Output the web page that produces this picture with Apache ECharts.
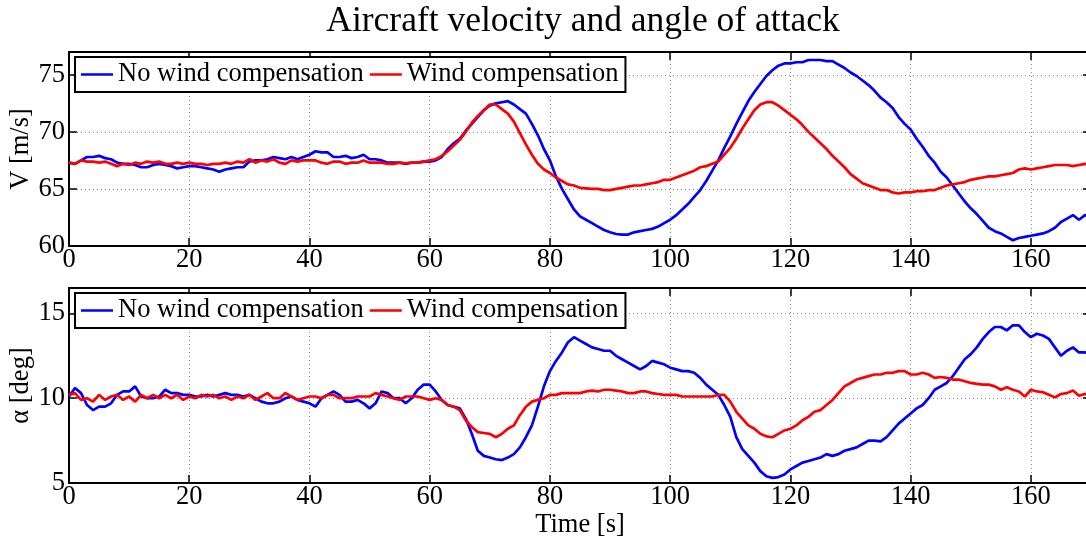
<!DOCTYPE html>
<html>
<head>
<meta charset="utf-8">
<script src="https://cdn.jsdelivr.net/npm/echarts@6/dist/echarts.min.js"></script>
<style>
html,body{margin:0;padding:0;background:#fff;}
#chart{width:1086px;height:541px;}
</style>
</head>
<body>
<div id="chart"></div>
<script>
// Time samples (s), one per second
var timeLabels = [0,20,40,60,80,100,120,140,160];
var seriesNames = ['No wind compensation', 'Wind compensation'];

// Velocity V [m/s], t = 0..170 s
var vNoComp = [
67.3,67.2,67.5,67.8,67.8,67.9,67.7,67.6,67.3,67.2,
67.2,67.1,66.9,66.9,67.1,67.2,67.1,67.0,66.8,66.9,
67.0,67.0,66.9,66.8,66.7,66.5,66.7,66.8,66.9,66.9,
67.4,67.5,67.5,67.6,67.8,67.7,67.6,67.8,67.6,67.8,
68.0,68.3,68.2,68.2,67.8,67.8,67.9,67.7,67.8,68.0,
67.6,67.6,67.5,67.3,67.3,67.3,67.2,67.3,67.3,67.4,
67.4,67.5,67.8,68.5,69.0,69.4,70.1,70.7,71.3,71.9,
72.3,72.5,72.6,72.7,72.4,72.0,71.6,70.7,69.7,68.5,
67.5,66.1,65.0,64.1,63.2,62.6,62.3,62.0,61.7,61.4,
61.2,61.05,61.0,61.0,61.2,61.3,61.4,61.5,61.7,62.0,
62.3,62.7,63.2,63.7,64.3,64.9,65.7,66.6,67.5,68.6,
69.6,70.7,71.7,72.7,73.5,74.2,74.9,75.4,75.8,76.0,
76.0,76.1,76.1,76.3,76.3,76.3,76.2,76.2,75.9,75.6,
75.2,74.9,74.5,74.1,73.6,73.0,72.6,72.1,71.3,70.7,
70.2,69.4,68.7,67.9,67.3,66.5,66.0,65.3,64.6,63.9,
63.3,62.8,62.2,61.6,61.3,61.1,60.8,60.5,60.7,60.8,
60.9,61.0,61.1,61.3,61.6,62.1,62.4,62.7,62.3,62.7,62.6
];
var vComp = [
67.3,67.2,67.5,67.4,67.4,67.3,67.4,67.2,67.0,67.2,
67.1,67.3,67.2,67.4,67.3,67.4,67.2,67.2,67.3,67.2,
67.3,67.2,67.2,67.1,67.2,67.2,67.3,67.2,67.4,67.3,
67.6,67.3,67.5,67.4,67.6,67.3,67.2,67.5,67.4,67.5,
67.5,67.5,67.3,67.2,67.4,67.4,67.2,67.3,67.3,67.5,
67.3,67.3,67.3,67.2,67.2,67.3,67.25,67.3,67.3,67.4,
67.5,67.6,67.9,68.3,68.8,69.3,70.0,70.8,71.4,71.9,
72.4,72.4,72.0,71.6,70.9,69.9,68.9,68.0,67.2,66.7,
66.4,66.0,65.7,65.4,65.3,65.1,65.05,65.0,65.0,64.9,
64.9,65.0,65.1,65.2,65.3,65.3,65.4,65.5,65.6,65.8,
65.8,66.0,66.2,66.4,66.6,66.9,67.0,67.2,67.4,68.0,
68.6,69.4,70.3,71.1,71.9,72.4,72.6,72.6,72.3,71.9,
71.5,71.1,70.6,70.0,69.5,69.0,68.5,67.9,67.4,66.9,
66.3,65.9,65.5,65.3,65.1,64.9,64.9,64.7,64.6,64.7,
64.7,64.8,64.8,64.9,64.9,65.1,65.3,65.4,65.5,65.6,
65.8,65.9,66.0,66.1,66.1,66.2,66.3,66.4,66.7,66.8,
66.7,66.8,66.9,67.0,67.1,67.1,67.1,67.0,67.1,67.2,67.1
];

// Angle of attack alpha [deg], t = 0..170 s
var aNoComp = [
10.1,10.6,10.3,9.6,9.3,9.5,9.5,9.7,10.2,10.4,
10.4,10.7,10.1,10.0,10.0,10.1,10.5,10.3,10.3,10.2,
10.2,10.1,10.1,10.2,10.1,10.2,10.3,10.2,10.2,10.1,
10.2,10.0,9.8,9.7,9.7,9.8,10.0,10.1,9.9,9.8,
9.7,9.5,10.0,10.2,10.4,10.2,9.8,9.8,9.9,9.7,
9.4,9.7,10.4,10.3,10.0,10.0,9.7,10.0,10.5,10.8,
10.8,10.4,9.9,9.6,9.5,9.4,8.8,7.9,6.9,6.6,
6.5,6.4,6.35,6.5,6.7,7.1,7.7,8.4,9.5,10.7,
11.6,12.2,12.7,13.3,13.6,13.4,13.2,13.0,12.9,12.8,
12.8,12.5,12.3,12.1,11.9,11.7,11.9,12.2,12.1,12.0,
11.8,11.7,11.6,11.6,11.5,11.2,10.8,10.5,10.2,9.6,
8.9,7.7,7.0,6.6,6.2,5.7,5.4,5.3,5.35,5.5,
5.8,6.0,6.2,6.3,6.4,6.5,6.7,6.6,6.7,6.9,
7.0,7.1,7.3,7.5,7.5,7.45,7.7,8.1,8.5,8.8,
9.1,9.4,9.6,10.0,10.5,10.7,10.9,11.3,11.8,12.3,
12.6,13.0,13.5,13.9,14.2,14.2,14.0,14.3,14.3,13.9,
13.6,13.8,13.7,13.5,13.0,12.5,12.8,13.0,12.7,12.7,12.6
];
var aComp = [
10.2,10.3,9.9,10.0,9.8,10.2,9.9,10.1,10.2,9.9,
10.1,9.8,10.2,10.0,10.2,10.0,10.2,10.0,10.2,9.9,
10.1,10.0,10.2,10.1,10.2,10.0,10.1,9.9,10.1,10.0,
10.2,9.9,10.1,10.3,10.0,10.0,10.3,10.1,9.9,10.0,
10.1,10.1,10.0,10.2,10.2,10.0,10.0,10.0,10.1,10.1,
10.1,10.3,10.2,10.1,10.0,9.9,10.1,10.1,10.1,10.0,
9.9,10.0,9.9,9.6,9.5,9.3,8.7,8.3,8.0,7.95,
7.9,7.7,7.9,8.2,8.4,9.0,9.5,9.8,9.9,10.0,
10.2,10.2,10.3,10.3,10.3,10.3,10.4,10.45,10.4,10.5,
10.5,10.45,10.4,10.3,10.3,10.4,10.4,10.3,10.25,10.2,
10.2,10.2,10.1,10.1,10.1,10.1,10.1,10.1,10.2,10.2,
9.8,9.2,8.8,8.4,8.2,7.9,7.75,7.7,7.9,8.1,
8.2,8.4,8.7,8.9,9.2,9.3,9.6,9.9,10.3,10.7,
10.9,11.1,11.2,11.3,11.4,11.4,11.5,11.5,11.6,11.6,
11.4,11.4,11.5,11.4,11.2,11.25,11.2,11.1,11.1,11.0,
10.9,10.85,10.8,10.8,10.7,10.5,10.65,10.5,10.4,10.1,
10.5,10.4,10.35,10.2,10.05,10.25,10.3,10.45,10.15,10.25,10.2
];

function pairs(arr){ return arr.map(function(v,i){ return [i, v]; }); }

var FONT = "'Liberation Serif','DejaVu Serif',serif";
var FS = 26.5;
var BLUE = '#0000ff', RED = '#ff0000';

function xAxes(gi, withName){
  return [{
    type:'value', gridIndex:gi, min:0, max:170, interval:20, position:'bottom',
    axisLine:{show:true, onZero:false, lineStyle:{color:'#000', width:2}},
    axisTick:{show:true, inside:true, length:8, lineStyle:{color:'#000', width:1.5}},
    axisLabel:{show:true, color:'#000', fontFamily:FONT, fontSize:FS, margin:1, showMaxLabel:false},
    splitLine:{show:true, lineStyle:{color:'#888', width:1, type:[1,3]}},
    name: withName ? 'Time [s]' : '', nameLocation:'middle', nameGap:27,
    nameTextStyle:{color:'#000', fontFamily:FONT, fontSize:FS}
  },{
    type:'value', gridIndex:gi, min:0, max:170, interval:20, position:'top',
    axisLine:{show:true, onZero:false, lineStyle:{color:'#000', width:2}},
    axisTick:{show:true, inside:true, length:8, lineStyle:{color:'#000', width:1.5}},
    axisLabel:{show:false}, splitLine:{show:false}
  }];
}
function yAxes(gi, min, max, name){
  return [{
    type:'value', gridIndex:gi, min:min, max:max, interval:5, position:'left',
    axisLine:{show:true, onZero:false, lineStyle:{color:'#000', width:2}},
    axisTick:{show:true, inside:true, length:8, lineStyle:{color:'#000', width:1.5}},
    axisLabel:{show:true, color:'#000', fontFamily:FONT, fontSize:FS, margin:4, showMaxLabel:false},
    splitLine:{show:true, lineStyle:{color:'#888', width:1, type:[1,3]}},
    name:name, nameLocation:'middle', nameGap:34, nameRotate:90, nameMoveOverlap:false,
    nameTextStyle:{color:'#000', fontFamily:FONT, fontSize:FS}
  },{
    type:'value', gridIndex:gi, min:min, max:max, interval:5, position:'right',
    axisLine:{show:true, onZero:false, lineStyle:{color:'#000', width:2}},
    axisTick:{show:true, inside:true, length:8, lineStyle:{color:'#000', width:1.5}},
    axisLabel:{show:false}, splitLine:{show:false}
  }];
}

function legend(top){
  return {
    left:75, top:top, orient:'horizontal',
    data:seriesNames, icon:'rect', itemWidth:32, itemHeight:2.5, itemGap:6,
    backgroundColor:'#fff', borderColor:'#000', borderWidth:2, borderRadius:0,
    padding:[4,7,4,6], selectedMode:false,
    textStyle:{color:'#000', fontFamily:FONT, fontSize:FS}
  };
}

var chart = echarts.init(document.getElementById('chart'), null, {renderer:'canvas'});
var xa = xAxes(0,false).concat(xAxes(1,true));
var ya = yAxes(0,60,77,'V [m/s]').concat(yAxes(1,5,16.5,'\u03b1 [deg]'));

chart.setOption({
  animation:false,
  backgroundColor:'#fff',
  title:{text:'Aircraft velocity and angle of attack', left:578, top:-1, textAlign:'center',
    textStyle:{color:'#000', fontFamily:FONT, fontSize:35.5, fontWeight:'normal'}},
  legend:[legend(57), legend(293)],
  grid:[
    {left:69, width:1022, top:52, height:194, outerBoundsMode:'none', containLabel:false},
    {left:69, width:1022, top:288, height:195, outerBoundsMode:'none', containLabel:false}
  ],
  xAxis:xa,
  yAxis:ya,
  series:[
    {name:seriesNames[0], type:'line', xAxisIndex:0, yAxisIndex:0, data:pairs(vNoComp), showSymbol:false, symbol:'none', color:BLUE, lineStyle:{color:BLUE, width:2.7}, z:3},
    {name:seriesNames[1], type:'line', xAxisIndex:0, yAxisIndex:0, data:pairs(vComp), showSymbol:false, symbol:'none', color:RED, lineStyle:{color:RED, width:2.7}, z:4},
    {name:seriesNames[0], type:'line', xAxisIndex:2, yAxisIndex:2, data:pairs(aNoComp), showSymbol:false, symbol:'none', color:BLUE, lineStyle:{color:BLUE, width:2.7}, z:3},
    {name:seriesNames[1], type:'line', xAxisIndex:2, yAxisIndex:2, data:pairs(aComp), showSymbol:false, symbol:'none', color:RED, lineStyle:{color:RED, width:2.7}, z:4}
  ]
});
</script>
</body>
</html>
